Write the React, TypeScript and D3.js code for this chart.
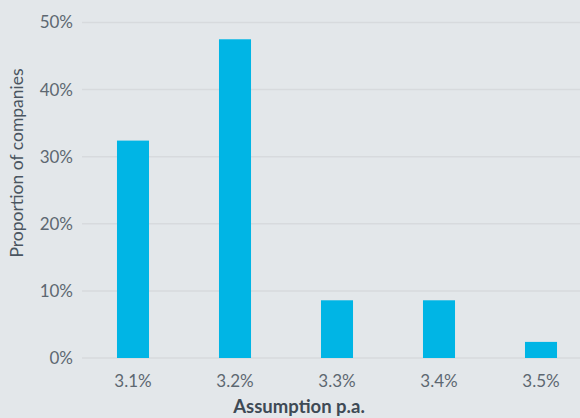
import React from "react";
import * as d3 from "d3";

const categories = ["3.1%", "3.2%", "3.3%", "3.4%", "3.5%"];
const values = [32.4, 47.5, 8.6, 8.6, 2.4];
const yTicks = [0, 10, 20, 30, 40, 50];

const W = 580;
const H = 418;
const BG = "#e3e7ea";
const BAR = "#00b5e5";
const FONT = "Lato, 'Open Sans', sans-serif";

export default function App() {
  const x = d3
    .scaleBand<string>()
    .domain(categories)
    .range([82, 592])
    .paddingInner(0.686)
    .paddingOuter(0.343);
  const y = d3.scaleLinear().domain([0, 50]).range([358, 22.5]);

  return (
    <svg
      width={W}
      height={H}
      style={{ position: "absolute", left: 0, top: 0, display: "block" }}
    >
      <rect x={0} y={0} width={W} height={H} fill={BG} />
      {yTicks.map((t) => (
        <g key={t}>
          <line
            x1={82}
            x2={W}
            y1={y(t)}
            y2={y(t)}
            stroke="#d7dadd"
            strokeWidth={1.5}
          />
          <text
            x={73}
            y={y(t)}
            dy="0.35em"
            textAnchor="end"
            fontFamily={FONT}
            fontSize={17}
            fill="#5d6771"
          >
            {t}%
          </text>
        </g>
      ))}
      {categories.map((c, i) => (
        <g key={c}>
          <rect
            x={x(c)}
            y={y(values[i])}
            width={x.bandwidth()}
            height={y(0) - y(values[i])}
            fill={BAR}
          />
          <text
            x={(x(c) as number) + x.bandwidth() / 2}
            y={387}
            textAnchor="middle"
            fontFamily={FONT}
            fontSize={17}
            fill="#5d6771"
          >
            {c}
          </text>
        </g>
      ))}
      <text
        transform="translate(23,163) rotate(-90)"
        textAnchor="middle"
        fontFamily={FONT}
        fontSize={17.5}
        fill="#4a5560"
      >
        Proportion of companies
      </text>
      <text
        x={299}
        y={413}
        textAnchor="middle"
        fontFamily={FONT}
        fontSize={18.5}
        fontWeight={700}
        fill="#3e4a55"
      >
        Assumption p.a.
      </text>
    </svg>
  );
}
